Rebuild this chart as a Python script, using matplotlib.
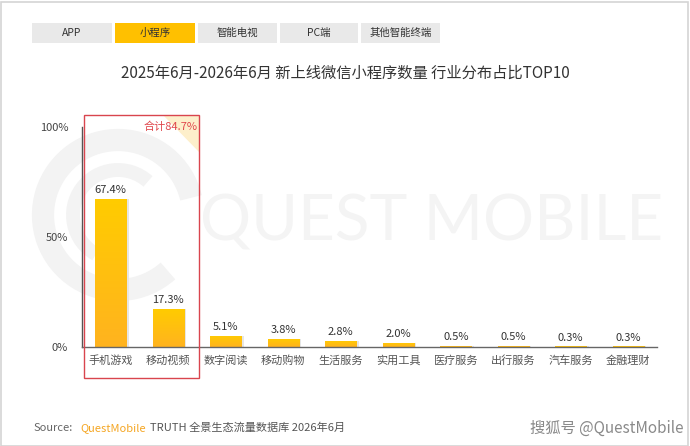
import matplotlib
matplotlib.use("Agg")
import matplotlib.pyplot as plt
import numpy as np
from matplotlib.patches import Rectangle, Polygon, Arc
from matplotlib.colors import LinearSegmentedColormap

plt.rcParams['font.family'] = ['Noto Sans CJK SC', 'DejaVu Sans']

categories = ['手机游戏', '移动视频', '数字阅读', '移动购物', '生活服务',
              '实用工具', '医疗服务', '出行服务', '汽车服务', '金融理财']
values = [67.4, 17.3, 5.1, 3.8, 2.8, 2.0, 0.5, 0.5, 0.3, 0.3]
value_labels = ['67.4%', '17.3%', '5.1%', '3.8%', '2.8%', '2.0%', '0.5%', '0.5%', '0.3%', '0.3%']
yticks = [0, 50, 100]
ytick_labels = ['0%', '50%', '100%']
tabs = ['APP', '小程序', '智能电视', 'PC端', '其他智能终端']
active_tab = '小程序'
total_label = '合计84.7%'
title = '2025年6月-2026年6月 新上线微信小程序数量 行业分布占比TOP10'

W, H = 690, 446
fig = plt.figure(figsize=(W / 100, H / 100), dpi=100)
fig.patch.set_facecolor('white')


def fx(x):
    return x / W


def fy(y):
    return 1 - y / H


# image border
fig.patches.append(Rectangle((0.5 / W, 0.5 / H), (W - 2.5) / W, (H - 2) / H,
                             transform=fig.transFigure, fill=False,
                             edgecolor='#D4D4D4', linewidth=1.2))

# tabs
tab_x = [(32, 112), (115, 195), (198, 277), (280, 358), (361, 440)]
for name, (x0, x1) in zip(tabs, tab_x):
    active = name == active_tab
    fig.patches.append(Rectangle((fx(x0), fy(43)), fx(x1 - x0), (43 - 23) / H,
                                 transform=fig.transFigure,
                                 facecolor='#FFC000' if active else '#E9E9E9',
                                 edgecolor='none'))
    fig.text(fx((x0 + x1) / 2), fy(33), name, ha='center', va='center',
             fontsize=7.5, color='#333333')

# title
fig.text(fx(345), fy(73), title, ha='center', va='center', fontsize=11,
         color='#333333')

# axes
ax = fig.add_axes([fx(82), fy(347), fx(657 - 82), (347 - 127) / H])
ax.set_facecolor('none')
ax.set_xlim(-0.5, len(categories) - 0.5)
ax.set_ylim(0, 100)

# watermark
ax.text(fx(432), fy(222), 'QUEST MOBILE', transform=fig.transFigure,
        ha='center', va='center', fontsize=46, color='#F4F4F4',
        family='Lato', zorder=0, clip_on=False)
for r, lw in [(75, 16)]:
    arc = Arc((fx(118), fy(215)), 2 * r / W, 2 * r / H, theta1=20, theta2=300,
              transform=fig.transFigure, color='#F3F3F3', linewidth=lw,
              zorder=0, clip_on=False)
    ax.add_artist(arc)
arc2 = Arc((fx(118), fy(215)), 2 * 45 / W, 2 * 45 / H, theta1=60, theta2=250,
           transform=fig.transFigure, color='#F3F3F3', linewidth=10,
           zorder=0, clip_on=False)
ax.add_artist(arc2)

x = np.arange(len(categories))
# shadows
ax.bar(x + 0.04, values, width=0.55, color='#E6E6E6', zorder=1, linewidth=0)
bars = ax.bar(x, values, width=0.54, color='#FFC10E', zorder=2, linewidth=0)

cmap = LinearSegmentedColormap.from_list('g', ['#FFB31F', '#FFCC00'])
grad = np.linspace(0, 1, 256).reshape(-1, 1)
for b in bars:
    x0, y0 = b.get_x(), b.get_y()
    w, h = b.get_width(), b.get_height()
    im = ax.imshow(grad, extent=[x0, x0 + w, y0, y0 + max(h, 0.01)],
                   origin='lower', cmap=cmap, aspect='auto', zorder=2.5)
    im.set_clip_path(b)

ax.set_xlim(-0.5, len(categories) - 0.5)
ax.set_ylim(0, 100)

for xi, v, lab in zip(x, values, value_labels):
    ax.annotate(lab, (xi, v), xytext=(0, 2.5), textcoords='offset points',
                ha='center', va='bottom', fontsize=8, color='#333333',
                zorder=4)

for s in ['top', 'right']:
    ax.spines[s].set_visible(False)
ax.spines['left'].set_color('#555555')
ax.spines['bottom'].set_color('#666666')
ax.spines['left'].set_linewidth(1)
ax.spines['bottom'].set_linewidth(1)
ax.spines['bottom'].set_zorder(5)

ax.set_yticks(yticks)
ax.set_yticklabels(ytick_labels, fontsize=8, color='#444444')
ax.tick_params(axis='y', length=0, pad=10)
ax.set_xticks(x)
ax.set_xticklabels(categories, fontsize=8, color='#555555')
ax.tick_params(axis='x', length=0, pad=6)

# highlight box
fig.patches.append(Polygon([(fx(163), fy(115)), (fx(199), fy(115)), (fx(199), fy(152))],
                           closed=True, transform=fig.transFigure,
                           facecolor='#FDEFCB', edgecolor='none'))
fig.patches.append(Rectangle((fx(84), fy(378)), fx(199 - 84), (378 - 115) / H,
                             transform=fig.transFigure, fill=False,
                             edgecolor='#D9454E', linewidth=1))
fig.text(fx(198), fy(127), total_label, ha='right', va='center', fontsize=8,
         color='#E0474C')

# source
t1 = fig.text(fx(33), fy(428), 'Source:', ha='left', va='center', fontsize=8,
              color='#666666')
fig.text(fx(80), fy(428), 'QuestMobile', ha='left', va='center', fontsize=8,
         color='#F5A623')
fig.text(fx(150), fy(428), 'TRUTH 全景生态流量数据库 2026年6月', ha='left',
         va='center', fontsize=8, color='#555555')
fig.text(fx(683), fy(428), '搜狐号 @QuestMobile', ha='right', va='center',
         fontsize=11, color='#8A8A8A')

fig.savefig('out.png', dpi=100, facecolor='white')
